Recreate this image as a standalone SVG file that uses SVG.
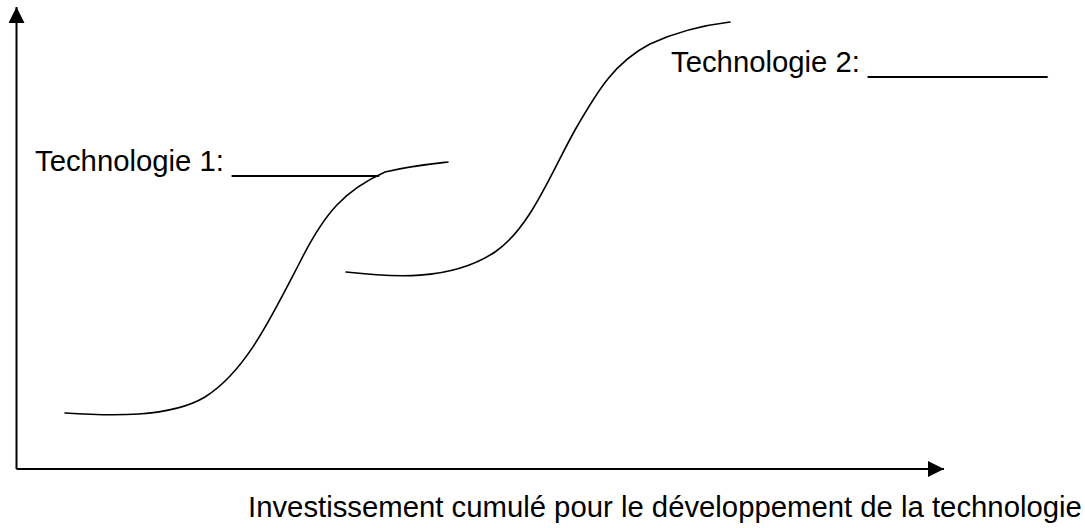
<svg xmlns="http://www.w3.org/2000/svg" width="1085" height="528" viewBox="0 0 1085 528">
<style>
.axis{stroke:#000;stroke-width:2;fill:none}
.curve{stroke:#000;stroke-width:1.6;fill:none;stroke-linecap:round}
.lbl{font-family:"Liberation Sans",Arial,sans-serif;font-size:29.3px;fill:#000}
</style>
<defs>
<marker id="arr" viewBox="0 0 16 16" refX="16" refY="8" markerWidth="16" markerHeight="16" markerUnits="userSpaceOnUse" orient="auto">
<path d="M0,0 L16,8 L0,16 Z" fill="#000"/>
</marker>
</defs>
<rect width="1085" height="528" fill="#fff"/>
<g id="connectors">
<path id="y-axis" class="axis" d="M16.5,469 L16.5,7" marker-end="url(#arr)"/>
<path id="x-axis" class="axis" d="M16.5,469 L944,469" marker-end="url(#arr)"/>
</g>
<g id="curve-tech1">
<path class="curve" d="M65,413 C110,416 170,418 205,397 C245,372 270,320 300,262 C325,212 345,190 385,172 C410,166 430,164 448,162"/>
</g>
<g id="curve-tech2">
<path class="curve" d="M346,272 C390,277 450,282 495,252 C530,228 550,175 575,130 C598,90 615,62 650,44 C680,30 705,25 730,22"/>
</g>
<g id="label-tech1">
<text class="lbl" x="35" y="171">Technologie 1: _________</text>
</g>
<g id="label-tech2">
<text class="lbl" x="671" y="72">Technologie 2: ___________</text>
</g>
<g id="label-x-axis">
<text class="lbl" x="248" y="517">Investissement cumulé pour le développement de la technologie</text>
</g>
</svg>
